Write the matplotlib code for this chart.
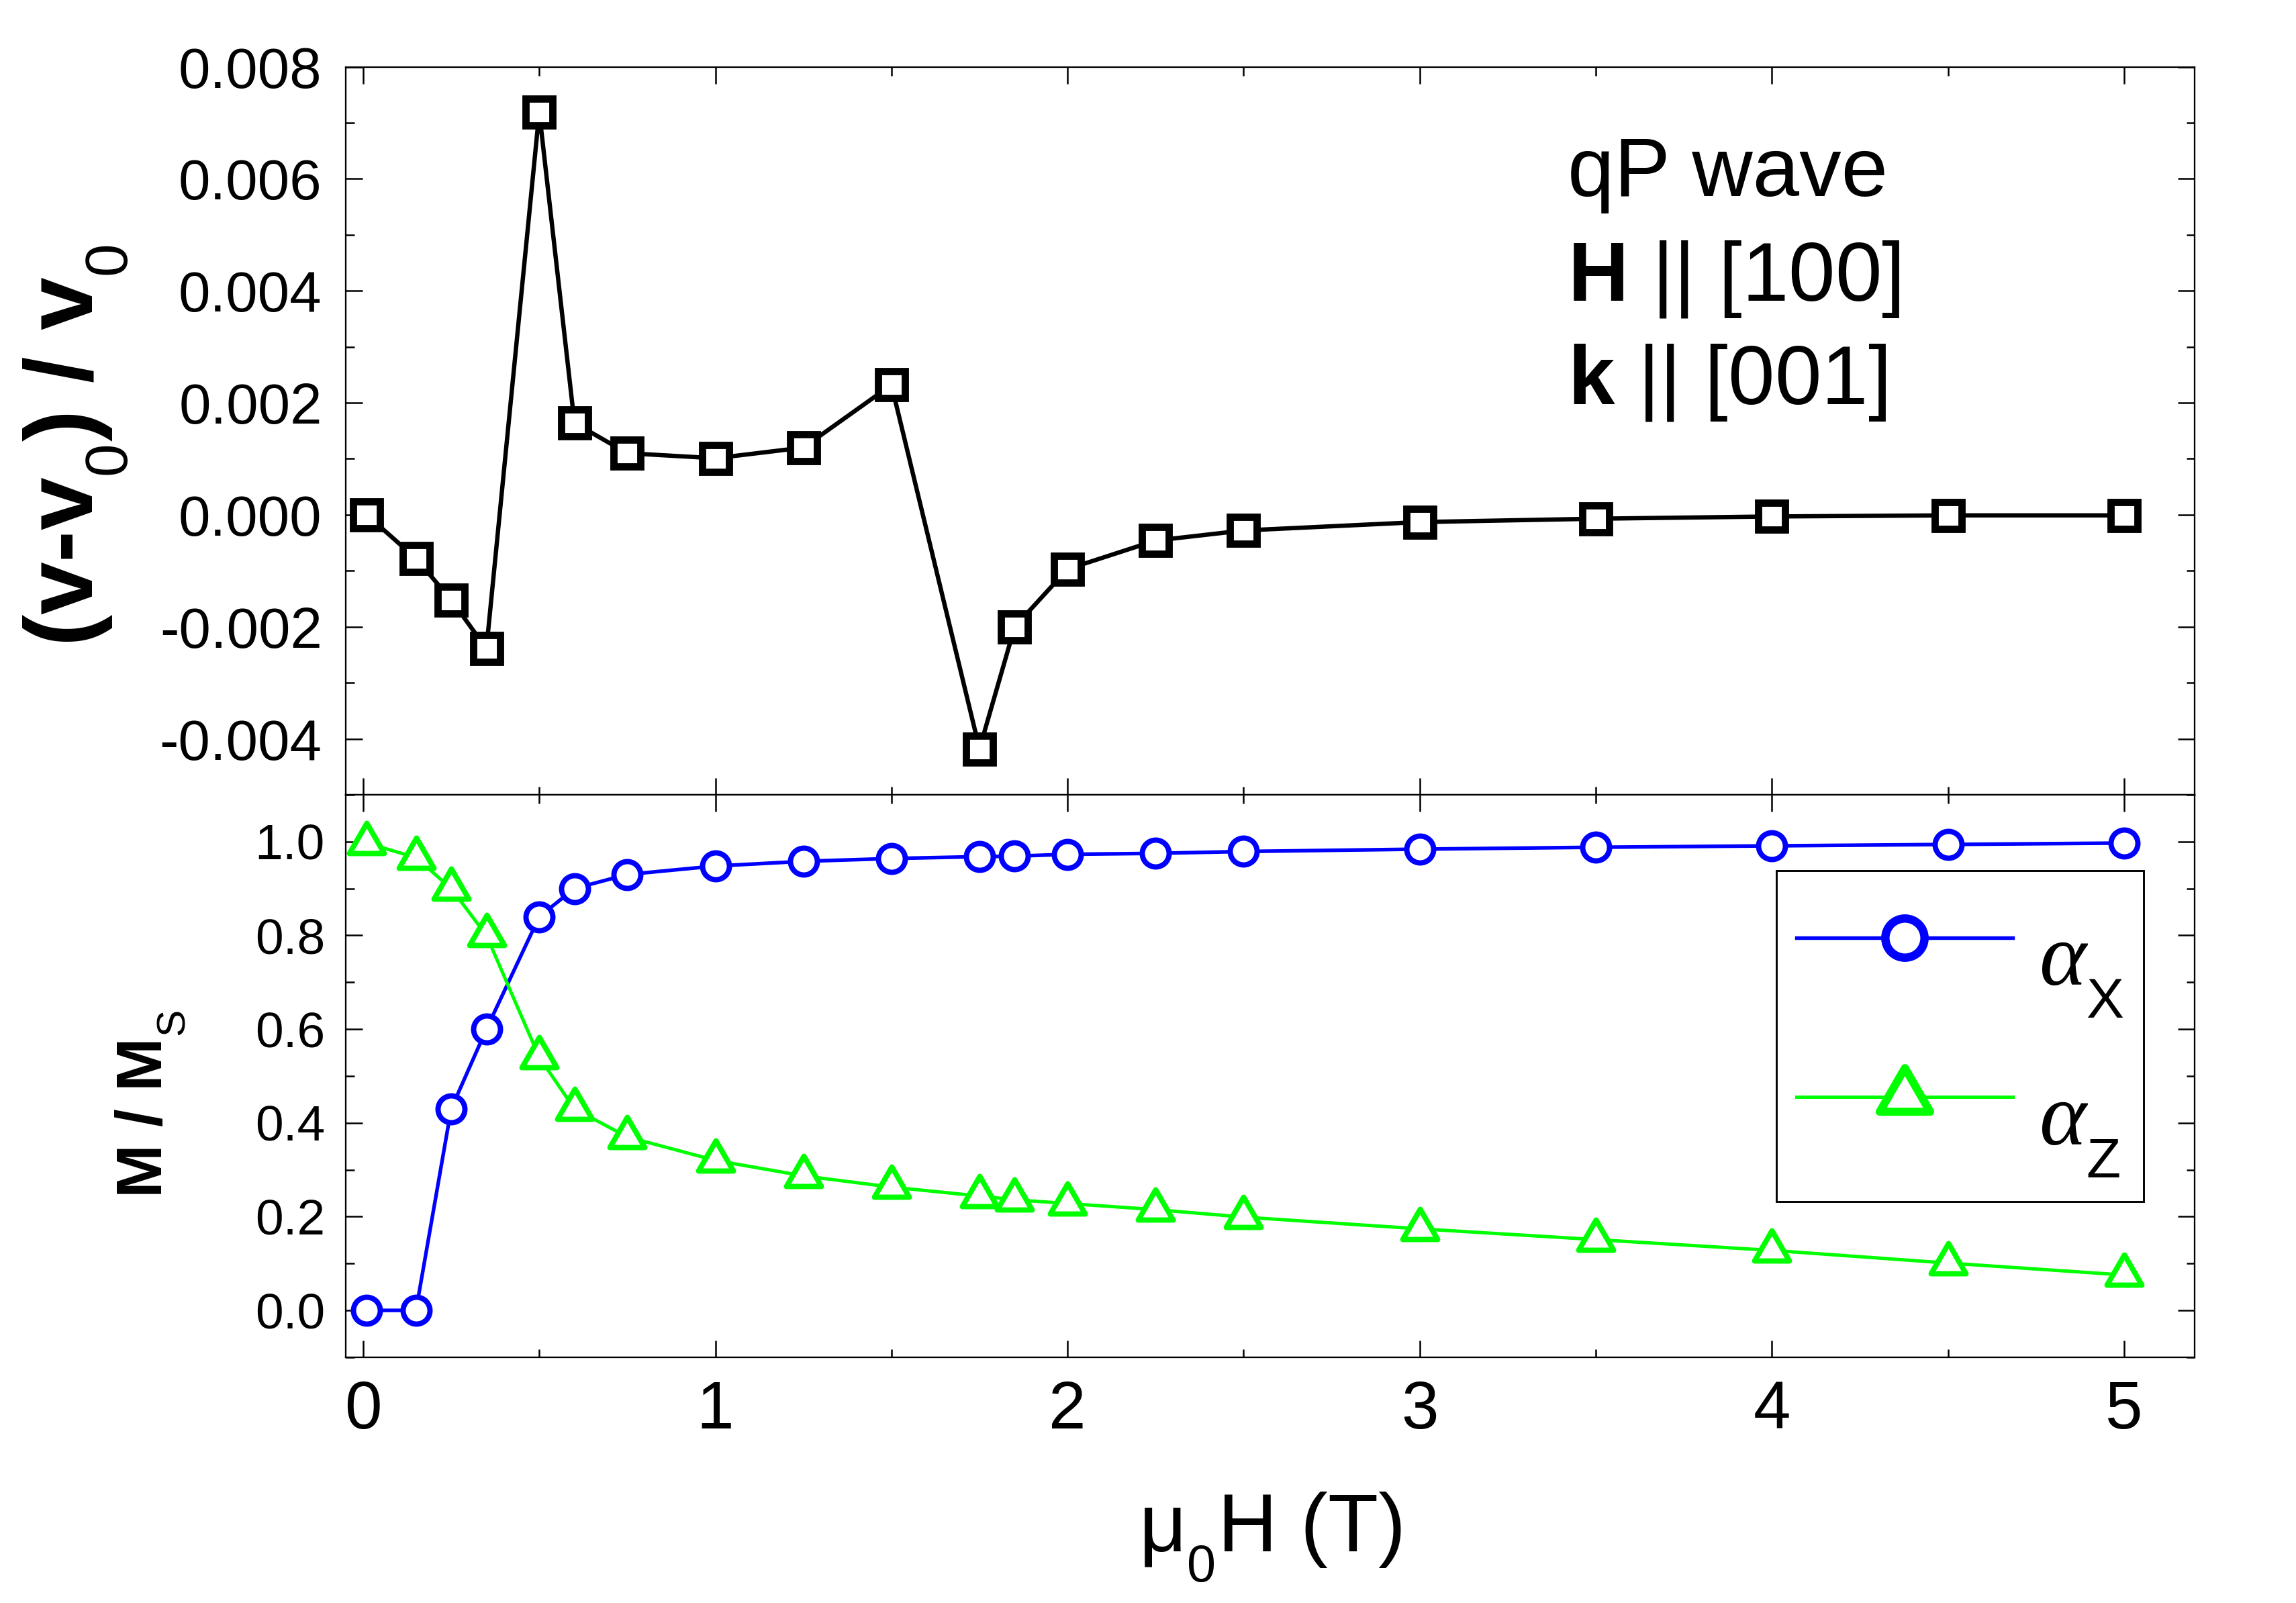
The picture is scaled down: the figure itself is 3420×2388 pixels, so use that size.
import numpy as np
import matplotlib
matplotlib.use("Agg")
import matplotlib.pyplot as plt
import matplotlib._mathtext as _mt
from matplotlib.path import Path
from matplotlib.markers import MarkerStyle
from matplotlib.lines import Line2D
from matplotlib.ticker import MultipleLocator, FormatStrFormatter

# ---------------- data ----------------
field = [0.01, 0.15, 0.25, 0.35, 0.5, 0.6, 0.75, 1.0, 1.25, 1.5,
         1.75, 1.85, 2.0, 2.25, 2.5, 3.0, 3.5, 4.0, 4.5, 5.0]
dv_v0 = [0.0, -0.00078, -0.00152, -0.00239, 0.00719, 0.00164, 0.0011, 0.00101,
         0.0012, 0.00232, -0.00418, -0.002, -0.00097, -0.00046, -0.00028,
         -0.00013, -0.00007, -0.00003, -0.00001, -0.00001]
alpha_x = [0.0, 0.0, 0.43, 0.60, 0.84, 0.90, 0.93, 0.948, 0.958, 0.964,
           0.968, 0.969, 0.973, 0.975, 0.979, 0.984, 0.988, 0.991, 0.994, 0.997]
alpha_z = [0.997, 0.966, 0.90, 0.80, 0.54, 0.43, 0.37, 0.32, 0.287, 0.263,
           0.244, 0.236, 0.228, 0.215, 0.199, 0.174, 0.151, 0.128, 0.101, 0.0755]

annot_lines = ["qP wave", r"$\mathbf{H}$ || [100]", r"$\mathbf{k}$ || [001]"]
legend_labels = [r"$\alpha_{\mathrm{X}}$", r"$\alpha_{\mathrm{Z}}$"]

# ---------------- style ----------------
plt.rcParams['font.family'] = ['Liberation Sans', 'DejaVu Sans']
plt.rcParams['mathtext.fontset'] = 'custom'
plt.rcParams['mathtext.rm'] = 'Liberation Sans'
plt.rcParams['mathtext.bf'] = 'Liberation Sans:bold'
plt.rcParams['mathtext.it'] = 'Liberation Serif:italic'
plt.rcParams['axes.unicode_minus'] = False
# Origin-style subscripts: smaller and dropped lower
_mt.FontConstantsBase.sub1 = 0.8
_mt.SHRINK_FACTOR = 0.63

BLUE = '#0000FF'
GREEN = '#00FF00'

# equilateral triangle centred on its centroid
tri_path = Path([(0, 0.57735), (-0.5, -0.288675), (0.5, -0.288675), (0, 0)], closed=True)
tri_marker = MarkerStyle(tri_path, joinstyle='round')

fig = plt.figure(figsize=(11.4, 7.96), dpi=300)
L, R = 0.1505, 0.9558
ax1 = fig.add_axes([L, 0.5042, R - L, 0.9583 - 0.5042])
ax2 = fig.add_axes([L, 0.1533, R - L, 0.5042 - 0.1533])

# ---------------- top panel ----------------
ax1.plot(field, dv_v0, color='black', lw=1.55, marker='s', ms=9.4,
         mfc='white', mec='black', mew=2.6, zorder=3)
ax1.set_xlim(-0.05, 5.2)
ax1.set_ylim(-0.005, 0.008)
ax1.yaxis.set_major_locator(MultipleLocator(0.002))
ax1.yaxis.set_minor_locator(MultipleLocator(0.001))
ax1.yaxis.set_major_formatter(FormatStrFormatter('%.3f'))
ax1.xaxis.set_major_locator(MultipleLocator(1))
ax1.xaxis.set_minor_locator(MultipleLocator(0.5))
ax1.tick_params(axis='x', labelbottom=False)
ax1.tick_params(axis='y', labelsize=20.5, pad=8.4)
ax1.set_ylabel("(v-v$_{0}$) / v$_{0}$", fontsize=34, fontweight='bold')
ax1.yaxis.set_label_coords(-0.116, 0.48)

ybase = [0.8225, 0.6796, 0.5367]
for txt, yb in zip(annot_lines, ybase):
    ax1.text(0.661, yb, txt, transform=ax1.transAxes, fontsize=30,
             ha='left', va='baseline')

# ---------------- bottom panel ----------------
ax2.plot(field, alpha_x, color=BLUE, lw=1.3, marker='o', ms=9.6,
         mfc='white', mec=BLUE, mew=1.9, zorder=3)
ax2.plot(field, alpha_z, color=GREEN, lw=1.2, marker=tri_marker, ms=14.4,
         mfc='white', mec=GREEN, mew=1.9, zorder=3)
ax2.set_xlim(-0.05, 5.2)
ax2.set_ylim(-0.1, 1.1)
ax2.yaxis.set_major_locator(MultipleLocator(0.2))
ax2.yaxis.set_minor_locator(MultipleLocator(0.1))
ax2.yaxis.set_major_formatter(FormatStrFormatter('%.1f'))
ax2.xaxis.set_major_locator(MultipleLocator(1))
ax2.xaxis.set_minor_locator(MultipleLocator(0.5))
ax2.tick_params(axis='y', labelsize=18, pad=7.4)
ax2.tick_params(axis='x', labelsize=24, pad=8)
ax2.set_ylabel("M / M$_{\\mathrm{S}}$", fontsize=23, fontweight='bold')
ax2.yaxis.set_label_coords(-0.0856, 0.45)
ax2.set_xlabel("\u03bc$_{0}$H (T)", fontsize=29.5)
ax2.xaxis.set_label_coords(0.5, -0.236)

for ax in (ax1, ax2):
    ax.tick_params(which='both', direction='in', top=True, right=True,
                   width=0.6, color='black')
    ax.tick_params(which='major', length=6)
    ax.tick_params(which='minor', length=3)
    for sp in ax.spines.values():
        sp.set_linewidth(0.55)

handles = [
    Line2D([], [], color=BLUE, lw=1.3, marker='o', ms=14, mfc='white',
           mec=BLUE, mew=3.0),
    Line2D([], [], color=GREEN, lw=1.2, marker=tri_marker, ms=20.8, mfc='white',
           mec=GREEN, mew=2.9),
]
leg = ax2.legend(handles, legend_labels, loc='upper left',
                 bbox_to_anchor=(0.774, 0.865), borderaxespad=0,
                 fontsize=32, handlelength=2.42, handletextpad=0.29,
                 handleheight=1.9, borderpad=0.22, labelspacing=0.3,
                 fancybox=False, framealpha=1, edgecolor='black')
leg.get_frame().set_linewidth(0.7)

fig.savefig("out.png", dpi=300)
